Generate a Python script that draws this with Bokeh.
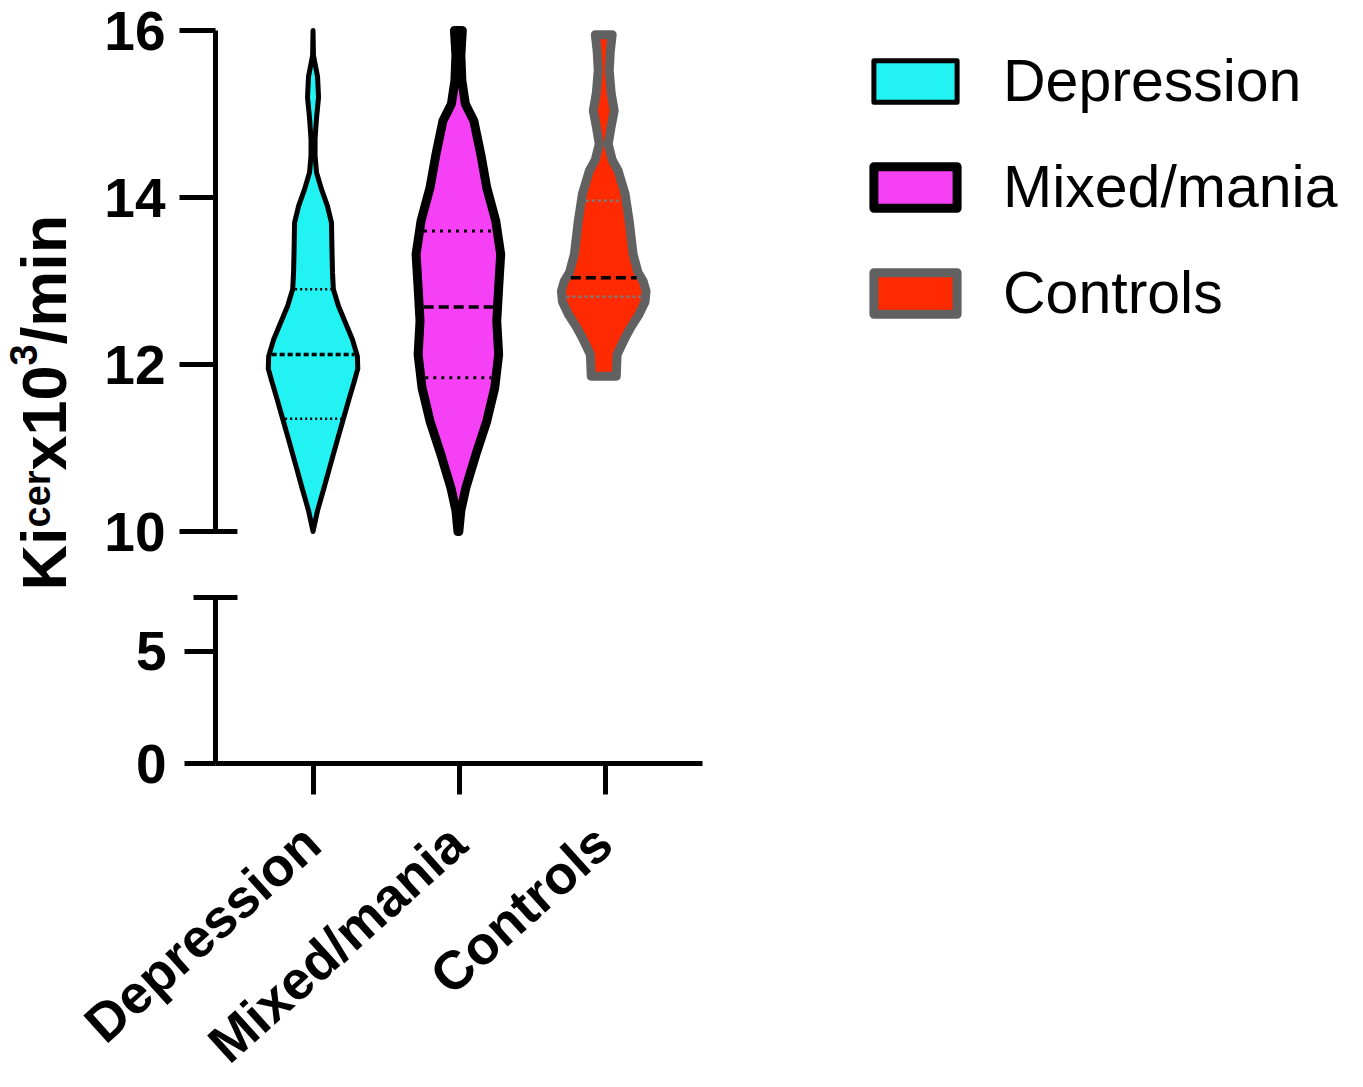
import math
import numpy as np
from bokeh.plotting import figure
from bokeh.models import Range1d, FixedTicker, Legend, LegendItem
from bokeh.layouts import column
from bokeh.embed import file_html
from bokeh.resources import INLINE
from bokeh.core.properties import value

# ---------------- data ----------------
categories = ["Depression", "Mixed/mania", "Controls"]

# violin outlines: value (y) and half-width of the density (in category units)
dep_y = [10.0, 10.25, 10.5, 10.8, 11.1, 11.35, 11.6, 11.8, 11.95, 12.1, 12.3, 12.5, 12.7,
         12.9, 13.1, 13.4, 13.7, 13.9, 14.1, 14.3, 14.5, 14.7, 14.95, 15.2, 15.45, 15.7, 16.0]
dep_w = [0.0, 0.031, 0.072, 0.120, 0.168, 0.209, 0.250, 0.284, 0.308, 0.305, 0.271, 0.223, 0.175,
         0.140, 0.134, 0.130, 0.127, 0.099, 0.058, 0.024, 0.014, 0.014, 0.024, 0.038, 0.031, 0.003, 0.0]

mix_y = [10.0, 10.25, 10.52, 10.92, 11.32, 11.72, 12.12, 12.52, 12.92, 13.32, 13.72, 14.12,
         14.52, 14.92, 15.12, 15.4, 15.7, 16.0]
mix_w = [0.003, 0.017, 0.051, 0.120, 0.195, 0.250, 0.277, 0.264, 0.277, 0.291, 0.257, 0.195,
         0.154, 0.106, 0.048, 0.024, 0.017, 0.027]

ctl_y = [11.86, 12.12, 12.32, 12.45, 12.6, 12.75, 12.88, 13.0, 13.1, 13.32, 13.72, 14.04,
         14.32, 14.45, 14.64, 14.85, 15.04, 15.25, 15.52, 15.75, 15.95]
ctl_w = [0.086, 0.092, 0.147, 0.188, 0.243, 0.284, 0.291, 0.271, 0.236, 0.202, 0.175, 0.147,
         0.099, 0.058, 0.031, 0.051, 0.072, 0.051, 0.038, 0.045, 0.058]

# quartiles: Q1, median, Q3
dep_q = [11.35, 12.12, 12.90]
mix_q = [11.84, 12.69, 13.60]
ctl_q = [12.81, 13.04, 13.96]

upper_ticks = [10, 12, 14, 16]
lower_ticks = [0, 5]
upper_range = (10, 16)
lower_range = (0, 7.4)

# ---------------- styling / layout ----------------
PXU = 146.0          # px per category unit
X0 = -0.671          # left end of x range
FONT = "Liberation Sans"
LEFT = 215
UP_FRAME_W = 1130
LO_FRAME_W = 487
UP_FRAME_H = 501
UP_TOP = 30
LO_FRAME_H = 166

styles = [
    dict(fill="#22F2F2", line="#000000", lw=5, qcol="#000000", qlw=2.5, dot="2 3", dash="5 3", medcol="#000000"),
    dict(fill="#F640F6", line="#000000", lw=9, qcol="#000000", qlw=3, dot="3 5", dash="10 5", medcol="#000000"),
    dict(fill="#FF2A00", line="#616161", lw=9, qcol="#7a7a7a", qlw=2.5, dot="3 3", dash="10 5", medcol="#000000"),
]

up = figure(width=LEFT + UP_FRAME_W + 5, height=UP_TOP + UP_FRAME_H + 59,
            x_range=Range1d(X0, X0 + UP_FRAME_W / PXU), y_range=Range1d(*upper_range),
            x_axis_type=None, output_backend="svg", toolbar_location=None,
            min_border_left=LEFT, min_border_right=5, min_border_top=UP_TOP, min_border_bottom=59)
lo = figure(width=LEFT + LO_FRAME_W + 10, height=7 + LO_FRAME_H + 316,
            x_range=Range1d(X0, X0 + LO_FRAME_W / PXU), y_range=Range1d(*lower_range),
            output_backend="svg", toolbar_location=None,
            min_border_left=LEFT, min_border_right=10, min_border_top=7, min_border_bottom=316)

for f in (up, lo):
    f.outline_line_color = None
    f.grid.visible = False
    f.background_fill_color = "white"
    f.border_fill_color = "white"
    for ax in f.yaxis:
        ax.axis_line_width = 5
        ax.major_tick_line_width = 5
        ax.major_tick_in = 0
        ax.minor_tick_line_color = None
        ax.major_label_text_font = FONT
        ax.major_label_text_font_style = "bold"
        ax.major_label_text_font_size = "55px"
        ax.major_label_text_color = "black"

up.yaxis.ticker = FixedTicker(ticks=upper_ticks)
up.yaxis.major_tick_out = 36
up.yaxis.major_label_standoff = 14
lo.yaxis.ticker = FixedTicker(ticks=lower_ticks)
lo.yaxis.major_tick_out = 31
lo.yaxis.major_label_standoff = 18

xa = lo.xaxis[0]
xa.ticker = FixedTicker(ticks=[0, 1, 2])
xa.major_label_overrides = {0: "", 1: "", 2: ""}   # category names drawn below as rotated text
xa.axis_line_width = 5
xa.major_tick_line_width = 5
xa.major_tick_in = 0
xa.major_tick_out = 31
xa.minor_tick_line_color = None

# rotated category labels
lo_ppu = LO_FRAME_H / (lower_range[1] - lower_range[0])
lab_dx = -2.0 / PXU
lab_y = -(71.0 / lo_ppu)
lo.text(x=[i + lab_dx for i in range(len(categories))], y=[lab_y] * len(categories),
        text=categories, angle=math.radians(42), text_align="right", text_baseline="middle",
        text_font=value(FONT), text_font_style="bold", text_font_size=value("54px"),
        text_color="black", level="overlay")

# break caps on the y axis (drawn at overlay level so they are not clipped)
cap = 22 / PXU
up.segment(x0=[X0 - cap], y0=[upper_range[0]], x1=[X0 + cap], y1=[upper_range[0]],
           line_width=5, line_color="black", level="overlay")
lo.segment(x0=[X0 - cap], y0=[lower_range[1]], x1=[X0 + cap], y1=[lower_range[1]],
           line_width=5, line_color="black", level="overlay")

# violins
groups = [(dep_y, dep_w, dep_q), (mix_y, mix_w, mix_q), (ctl_y, ctl_w, ctl_q)]
renderers = []
for i, ((yv, wv, qv), st) in enumerate(zip(groups, styles)):
    ys = np.array(yv, dtype=float)
    hw = np.array(wv, dtype=float)
    xs = np.concatenate([i + hw, (i - hw)[::-1]])
    yy = np.concatenate([ys, ys[::-1]])
    r = up.patch(xs, yy, fill_color=st["fill"], line_color=st["line"], line_width=st["lw"],
                 line_join="round", level="overlay")
    renderers.append(r)
    for k, q in enumerate(qv):
        half = max(np.interp(q, ys, hw) - st["lw"] / 2 / PXU, 0)
        is_med = (k == 1)
        up.segment(x0=[i - half], y0=[q], x1=[i + half], y1=[q],
                   line_color=st["medcol"] if is_med else st["qcol"],
                   line_width=3.5 if is_med else st["qlw"],
                   line_dash=st["dash"] if is_med else st["dot"], level="overlay")

legend = Legend(items=[LegendItem(label=c, renderers=[r]) for c, r in zip(categories, renderers)],
                location=(648, 204), glyph_width=104, glyph_height=52, label_height=52,
                label_text_font=FONT, label_text_font_size="59px", label_text_color="black",
                label_standoff=36, spacing=38, padding=0, margin=0, border_line_color=None,
                background_fill_alpha=0)
up.add_layout(legend)

# y axis title with superscripts: Ki^cer x10^3/min  (centre line of each piece in px)
BIG, SMALL = 63, 38
pieces = [("Ki", BIG, 43.0, 1.0), ("cer", SMALL, 36.0, 1.501), ("x10", BIG, 43.0, 1.668),
          ("3", SMALL, 22.0, 0.556), ("/min", BIG, 43.0, 2.056)]
ypx_per_unit = UP_FRAME_H / (upper_range[1] - upper_range[0])
pos = 590.0
for txt, size, cx_px, em in pieces:
    xd = X0 + (cx_px - LEFT) / PXU
    yd = upper_range[1] - (pos - UP_TOP) / ypx_per_unit
    up.text(x=[xd], y=[yd], text=[txt], angle=math.pi / 2, text_align="left",
            text_baseline="middle", text_font=value(FONT), text_font_style="bold",
            text_font_size=value(f"{size}px"), text_color="black", level="overlay")
    pos -= size * em

layout = column(up, lo)
open("out.html", "w").write(file_html(layout, INLINE))
